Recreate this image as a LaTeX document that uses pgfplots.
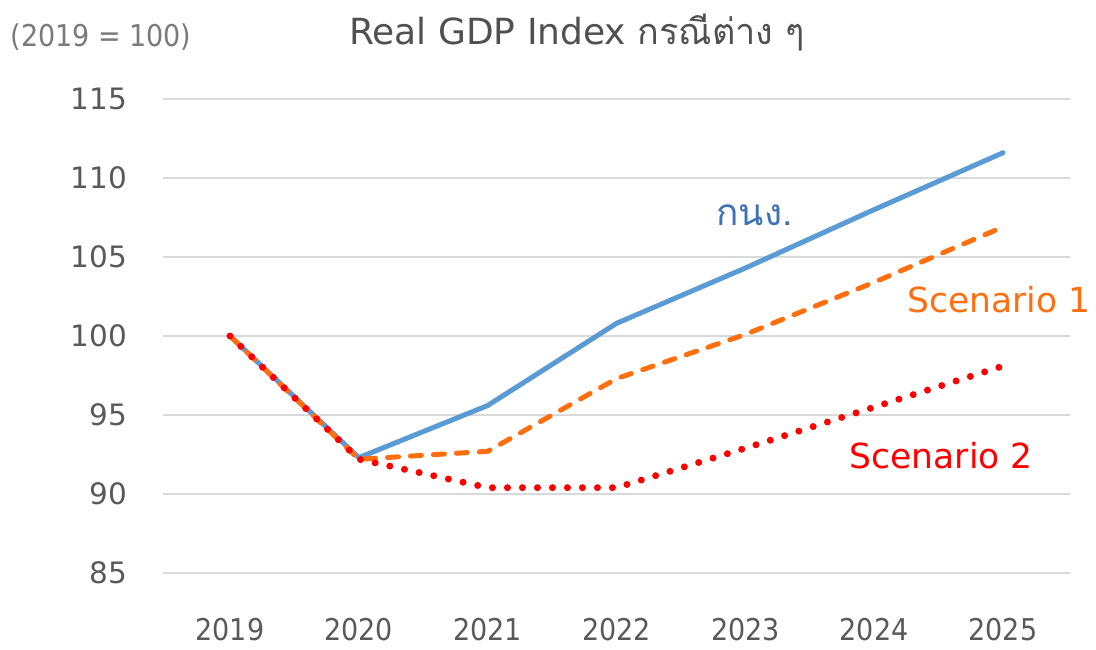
\documentclass[border=0pt]{standalone}
\usepackage{fontspec}
\setmainfont{DejaVu Sans}
\newfontfamily\thaifont[Script=Thai]{Loma}
\newfontfamily\condfont{DejaVu Sans Condensed}
\usepackage{pgfplots}
\pgfplotsset{compat=1.18}
\definecolor{gdpblue}{HTML}{5B9BD5}
\definecolor{gdptext}{HTML}{3E72B5}
\definecolor{scorange}{HTML}{FF6F0F}
\definecolor{scred}{HTML}{FF0000}
\definecolor{gridgray}{HTML}{D9D9D9}
\definecolor{ticktext}{HTML}{595959}
\begin{document}
\begin{tikzpicture}
\useasboundingbox (0,0) rectangle (1096pt,649pt);
\begin{axis}[
  at={(163pt,76pt)}, anchor=south west,
  scale only axis, width=907pt, height=474pt,
  xmin=-0.52, xmax=6.52, ymin=85, ymax=115,
  xtick={0,...,6},
  xticklabels={2019,2020,2021,2022,2023,2024,2025},
  ytick={85,90,...,115},
  /pgf/number format/assume math mode=true,
  axis line style={draw=none},
  major tick length=0pt,
  ymajorgrids, grid style={gridgray, line width=1.5pt},
  xticklabel style={inner sep=0pt, anchor=center, yshift=-57pt, font=\fontsize{30}{32}\condfont, text=ticktext},
  yticklabel style={inner sep=0pt, anchor=east, xshift=-36pt, font=\fontsize{29.5}{32}\selectfont, text=ticktext},
  clip=false,
]
\addplot[gdpblue, line width=5pt, line join=round, line cap=round] coordinates {
 (0,100) (1,92.3) (2,95.6) (3,100.8) (4,104.3) (5,108.0) (6,111.6)};
\addplot[scorange, line width=5pt, line cap=round, dash pattern=on 11pt off 12pt] coordinates {
 (0,100) (1,92.2) (2,92.7) (3,97.3) (4,100.1) (5,103.4) (6,106.9)};
\addplot[scred, line width=7pt, line cap=round, dash pattern=on 0pt off 15pt] coordinates {
 (0,100) (1,92.2) (2,90.4) (3,90.4) (4,92.9) (5,95.5) (6,98.1)};
\node[text=gdptext, font=\fontsize{37}{39}\thaifont] at (axis cs:4.07,107.66) {กนง.};
\node[text=scorange, font=\fontsize{34.5}{36}\selectfont] at (axis cs:5.97,102.28) {Scenario 1};
\node[text=scred, font=\fontsize{34.5}{36}\selectfont] at (axis cs:5.52,92.4) {Scenario 2};
\end{axis}
\node[text=ticktext!90!black, font=\fontsize{36}{38}\selectfont] at (577pt,616pt) {Real GDP Index {\thaifont กรณีต่าง ๆ}};
\node[text=ticktext!80, font=\fontsize{30}{32}\condfont] at (101pt,612pt) {(2019 = 100)};
\end{tikzpicture}
\end{document}
